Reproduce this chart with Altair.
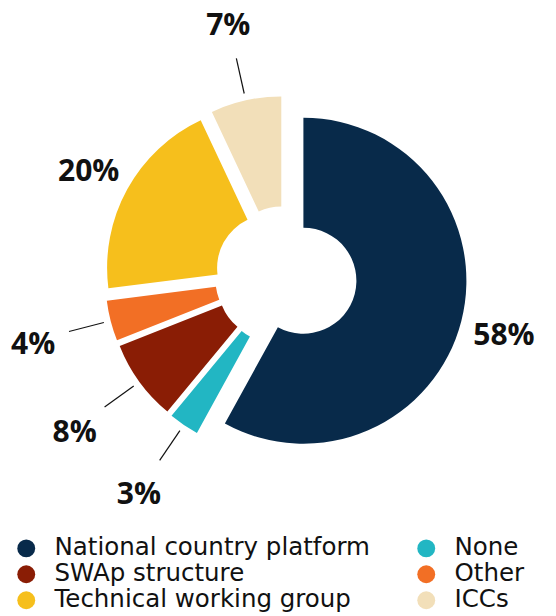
import altair as alt
import pandas as pd

# ---- data (clockwise from 12 o'clock) ----
categories = ["National country platform", "None", "SWAp structure", "Other",
              "Technical working group", "ICCs"]
values = [58, 3, 8, 4, 20, 7]

# legend order (fills column by column, 2 columns)
legend_order = ["National country platform", "SWAp structure", "Technical working group",
                "None", "Other", "ICCs"]
legend_colors = ["#082a4a", "#8a1d05", "#f6bf1c", "#22b6c3", "#f26f25", "#f2dfb9"]

# ---- style ----
explode = {"National country platform": 19}
DEFAULT_EXPLODE = 17
CX, CY = 277, 268
R_OUT, R_IN = 163, 53
FONT = "Open Sans"
LEGEND_FONT = "DejaVu Sans"

df = pd.DataFrame({"cat": categories, "val": values, "idx": list(range(len(values)))})
df["explode"] = [explode.get(c, DEFAULT_EXPLODE) for c in categories]

base = alt.Chart(df).transform_window(
    end="sum(val)", sort=[alt.SortField("idx")], frame=[None, 0]
).transform_calculate(
    start="datum.end - datum.val",
    ang="(datum.end - datum.val/2) / 100 * 2 * PI",
).transform_calculate(
    cx=f"{CX} + datum.explode * sin(datum.ang)",
    cy=f"{CY} - datum.explode * cos(datum.ang)",
).transform_calculate(
    lr="datum.val >= 15 ? 207 : 243",
    label="datum.val + '%'",
).transform_calculate(
    lx="datum.cx + datum.lr * sin(datum.ang)",
    ly="datum.cy - datum.lr * cos(datum.ang)",
    l1x="datum.cx + 170 * sin(datum.ang)",
    l1y="datum.cy - 170 * cos(datum.ang)",
    l2x="datum.cx + 206 * sin(datum.ang)",
    l2y="datum.cy - 206 * cos(datum.ang)",
)

arcs = base.mark_arc(outerRadius=R_OUT, innerRadius=R_IN).encode(
    x=alt.X("cx:Q", scale=None),
    y=alt.Y("cy:Q", scale=None),
    theta=alt.Theta("start:Q", scale=alt.Scale(domain=[0, 100])),
    theta2="end:Q",
    color=alt.Color(
        "cat:N",
        scale=alt.Scale(domain=legend_order, range=legend_colors),
        legend=alt.Legend(
            title=None, orient="none", legendX=6, legendY=528, columns=2,
            symbolType="circle", symbolSize=320, symbolStrokeWidth=0,
            labelFont=LEGEND_FONT, labelFontSize=24.5, labelColor="#111111",
            labelOffset=16, columnPadding=44, rowPadding=1,
            labelLimit=500,
        ),
    ),
)

leaders = base.transform_filter("datum.val < 15").mark_rule(
    color="#111111", strokeWidth=1.2
).encode(
    x=alt.X("l1x:Q", scale=None), y=alt.Y("l1y:Q", scale=None),
    x2="l2x:Q", y2="l2y:Q",
)

labels = base.mark_text(
    font=FONT, fontSize=30, fontWeight="bold", color="#111111",
    align="center", baseline="middle", dy=4,
).encode(
    x=alt.X("lx:Q", scale=None), y=alt.Y("ly:Q", scale=None),
    text="label:N",
)

chart = alt.layer(arcs, leaders, labels).properties(
    width=540, height=608, autosize=alt.AutoSizeParams(type="none"), padding=0
).configure_view(stroke=None)

chart.save("out.html", embed_options={"renderer": "svg", "actions": False})
